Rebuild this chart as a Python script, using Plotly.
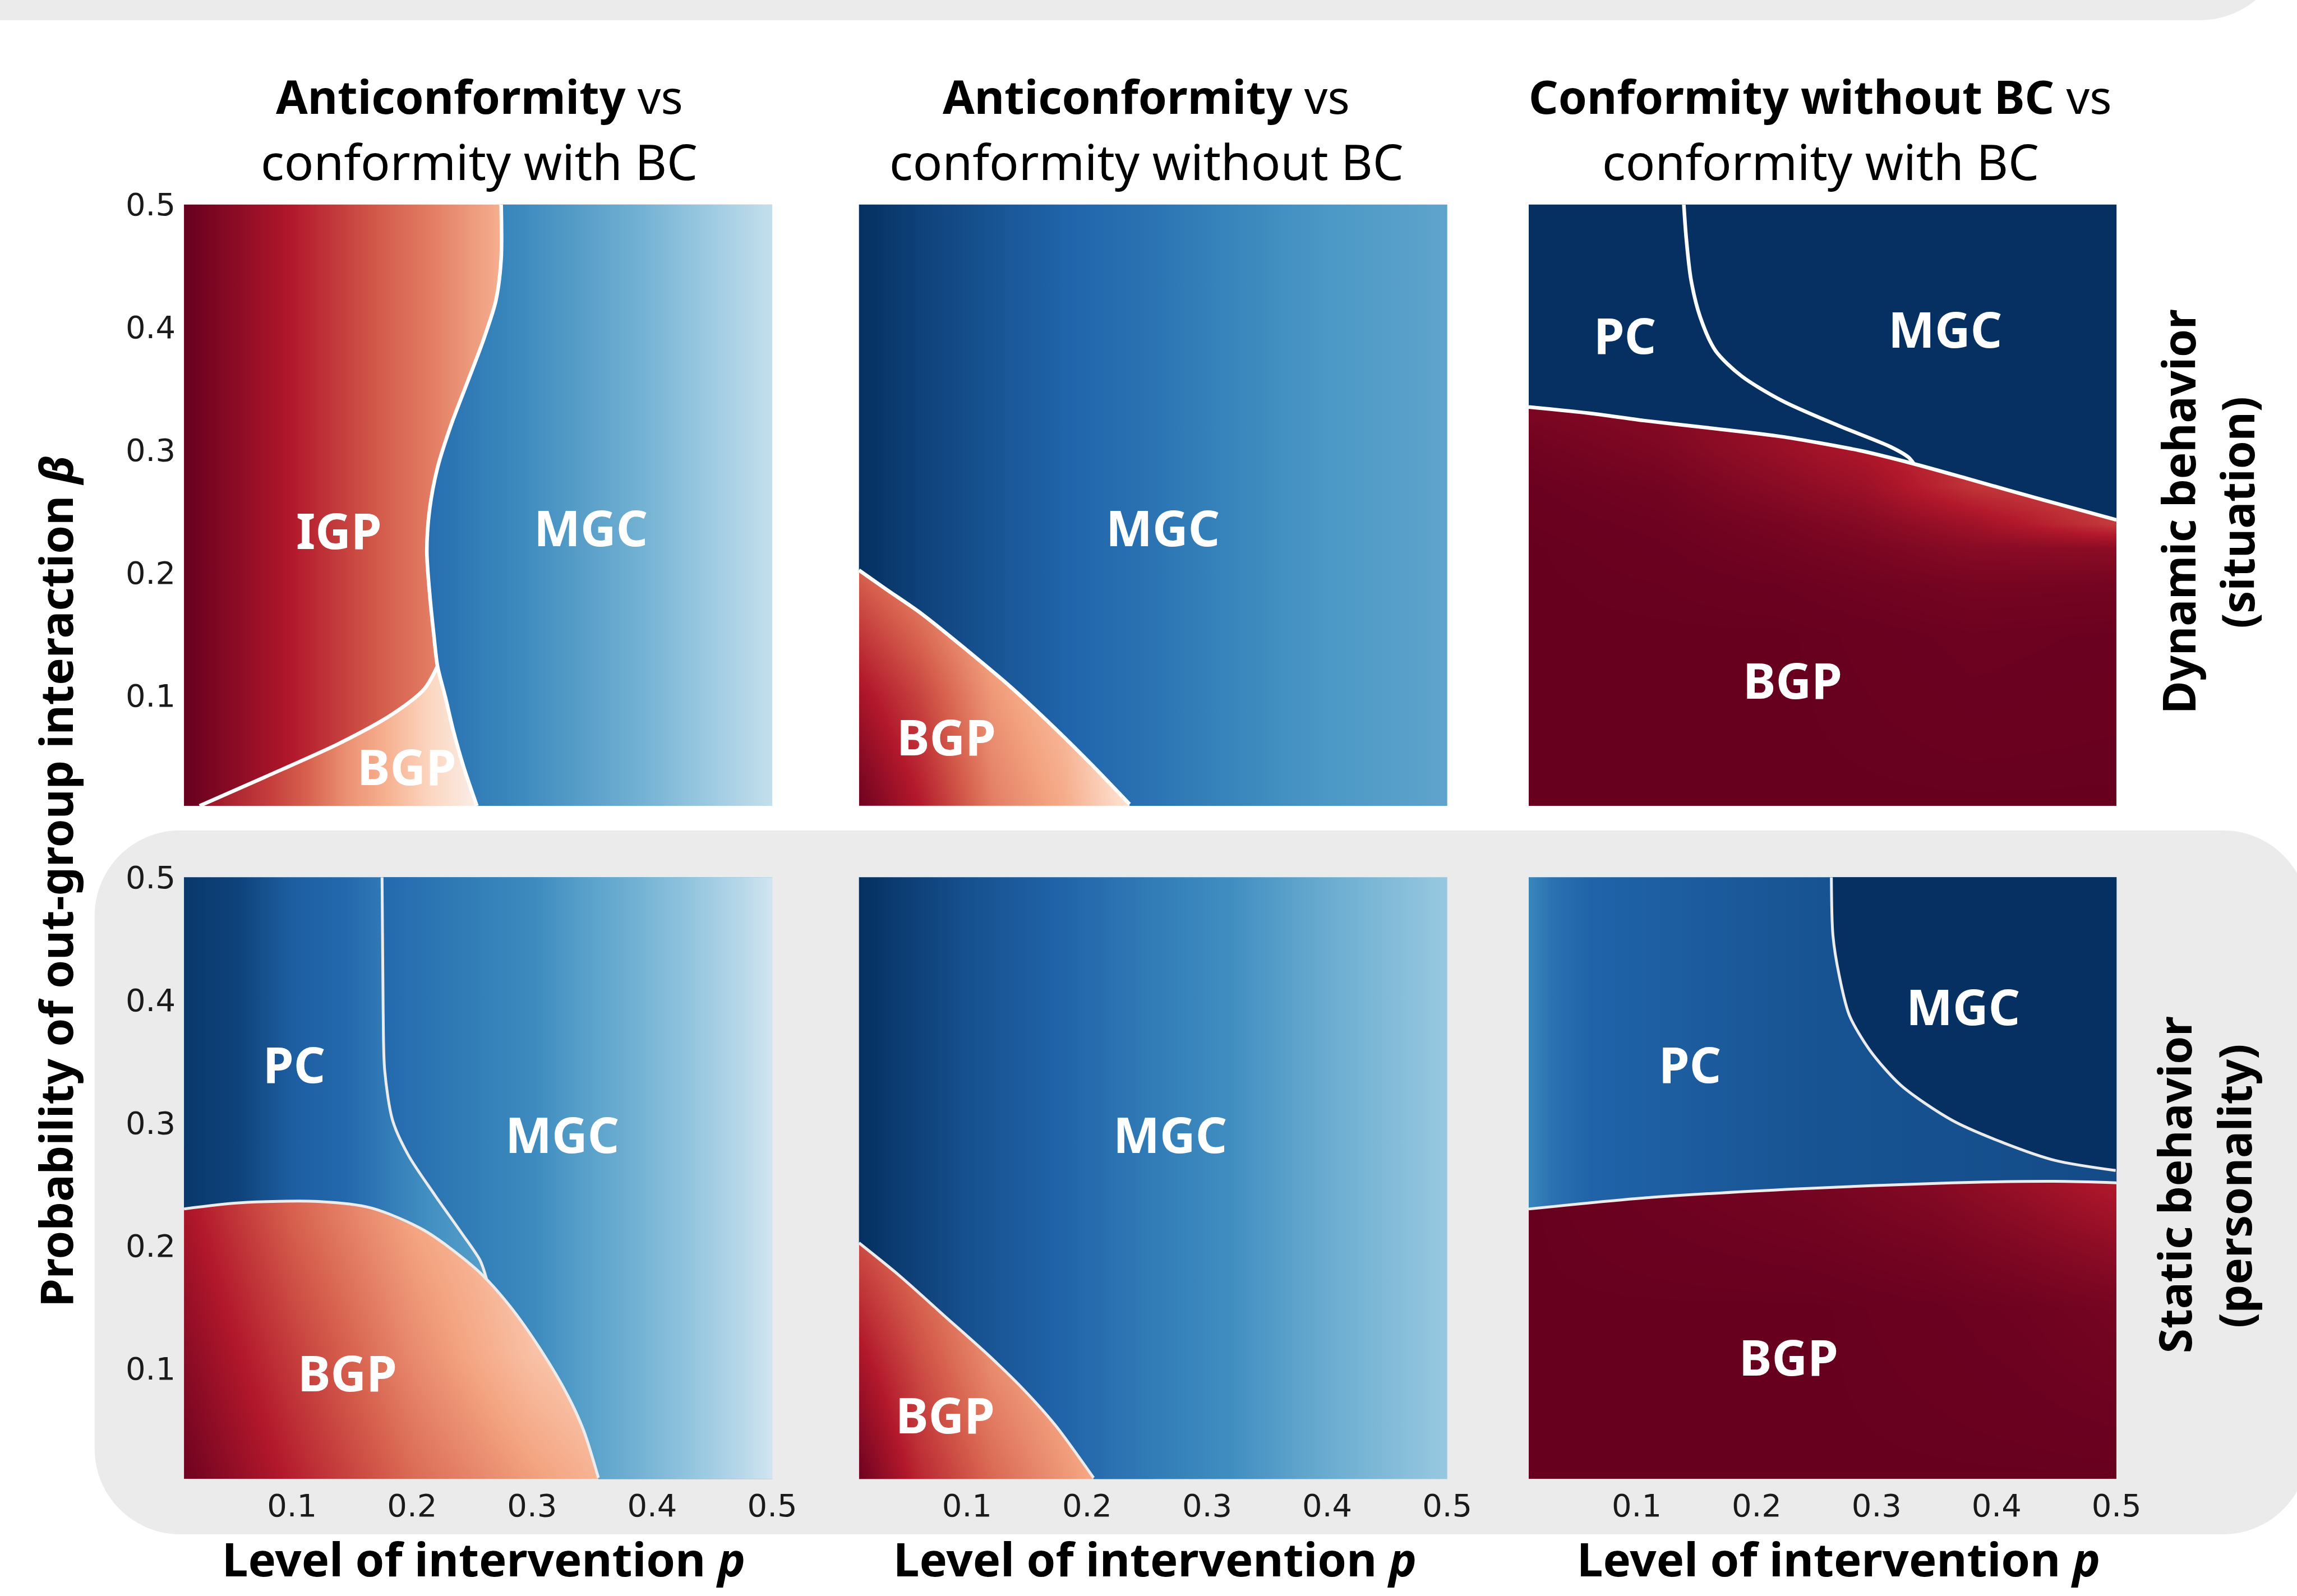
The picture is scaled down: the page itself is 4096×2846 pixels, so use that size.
import plotly.graph_objects as go
from plotly.colors import sample_colorscale

FIG_W, FIG_H = 4096, 2846
REF_W, REF_H = 5244, 3644

# matplotlib RdBu (0 = dark red, 1 = dark blue)
RDBU = [[0.0, 'rgb(103,0,31)'], [0.1, 'rgb(178,24,43)'], [0.2, 'rgb(214,96,77)'],
        [0.3, 'rgb(244,165,130)'], [0.4, 'rgb(253,219,199)'], [0.5, 'rgb(247,247,247)'],
        [0.6, 'rgb(209,229,240)'], [0.7, 'rgb(146,197,222)'], [0.8, 'rgb(67,147,195)'],
        [0.9, 'rgb(33,102,172)'], [1.0, 'rgb(5,48,97)']]

P_RANGE = [0.01, 0.5]
B_RANGE = [0.01, 0.5]
TICK_VALS = [0.1, 0.2, 0.3, 0.4, 0.5]
TICK_TEXT = ['0.1', '0.2', '0.3', '0.4', '0.5']

COL_TITLES_1 = ['<b>Anticonformity</b> vs', '<b>Anticonformity</b> vs', '<b>Conformity without BC</b> vs']
COL_TITLES_2 = ['conformity with BC', 'conformity without BC', 'conformity with BC']
ROW_TITLES_1 = ['<b>Dynamic behavior</b>', '<b>Static behavior</b>']
ROW_TITLES_2 = ['<b>(situation)</b>', '<b>(personality)</b>']
X_TITLE = '<b>Level of intervention <i>p</i></b>'
Y_TITLE = '<b>Probability of out-group interaction <i>β</i></b>'

# ---------------- panel 1: anticonformity vs conformity with BC (dynamic)
A1_IGP_p = [0.01, 0.10, 0.17, 0.215, 0.275]
A1_IGP_v = [0.0, 0.10, 0.19, 0.24, 0.32]
A1_MGC_p = [0.21, 0.29, 0.39, 0.45, 0.5]
A1_MGC_v = [0.885, 0.82, 0.74, 0.68, 0.62]
A1_BGP_p = [0.02, 0.08, 0.112, 0.145, 0.178, 0.215, 0.255]
A1_BGP_v = [0.06, 0.15, 0.20, 0.27, 0.32, 0.39, 0.47]
A1_IGP_MGC_p = [0.2742, 0.2742, 0.2698, 0.2587, 0.2455, 0.2322, 0.2212, 0.2146, 0.2123, 0.2146, 0.2181, 0.2212]
A1_IGP_MGC_b = [0.5, 0.456, 0.4217, 0.3877, 0.3537, 0.3196, 0.2856, 0.2516, 0.2175, 0.1834, 0.1494, 0.1238]
A1_BGP_MGC_p = [0.2212, 0.2278, 0.2344, 0.2433, 0.254]
A1_BGP_MGC_b = [0.1238, 0.0983, 0.0711, 0.0406, 0.01]
A1_IGP_BGP_p = [0.023, 0.0776, 0.1394, 0.1836, 0.2101, 0.2212]
A1_IGP_BGP_b = [0.01, 0.0336, 0.0609, 0.0847, 0.1051, 0.1238]

# ---------------- panel 2: anticonformity vs conformity without BC (dynamic)
A2_MGC_p = [0.01, 0.06, 0.135, 0.19, 0.25, 0.32, 0.40, 0.5]
A2_MGC_v = [1.0, 0.968, 0.925, 0.90, 0.874, 0.832, 0.79, 0.765]
A2_BGP_p = [0.01, 0.06, 0.12, 0.18, 0.24]
A2_BGP_b = [0.01, 0.10, 0.20]
A2_BGP_z = [[0.01, 0.10, 0.24, 0.31, 0.43],
            [0.085, 0.16, 0.28, 0.34, 0.45],
            [0.20, 0.26, 0.33, 0.40, 0.46]]
A2_BND_p = [0.01, 0.0322, 0.0621, 0.0993, 0.1365, 0.1737, 0.2036, 0.2354]
A2_BND_b = [0.2021, 0.1868, 0.1666, 0.1374, 0.1068, 0.0728, 0.0438, 0.0114]

# ---------------- panel 3: conformity without BC vs conformity with BC (dynamic)
A3_TOP_v = 1.0
A3_BGP_p = [0.01, 0.12, 0.22, 0.29, 0.38, 0.5]
A3_BGP_b = [0.01, 0.15, 0.19, 0.22, 0.24, 0.27, 0.30, 0.34]
A3_BGP_z = [[0.0, 0.0, 0.0, 0.0, 0.0, 0.0],
            [0.0, 0.0, 0.0, 0.003, 0.008, 0.005],
            [0.0, 0.002, 0.006, 0.012, 0.02, 0.018],
            [0.0, 0.005, 0.015, 0.025, 0.045, 0.05],
            [0.002, 0.008, 0.022, 0.04, 0.075, 0.15],
            [0.005, 0.015, 0.045, 0.07, 0.14, 0.17],
            [0.012, 0.03, 0.065, 0.095, 0.15, 0.17],
            [0.03, 0.045, 0.075, 0.095, 0.15, 0.17]]
A3_BND_p = [0.01, 0.06, 0.1058, 0.16, 0.22, 0.2857, 0.33, 0.378, 0.44, 0.5]
A3_BND_b = [0.335, 0.330, 0.324, 0.318, 0.311, 0.2996, 0.289, 0.276, 0.259, 0.243]
A3_PCMGC_p = [0.1393, 0.1413, 0.1453, 0.1530, 0.1657, 0.1872, 0.2215, 0.2688, 0.3116, 0.3265, 0.3309]
A3_PCMGC_b = [0.5, 0.4728, 0.4387, 0.4082, 0.3809, 0.3604, 0.340, 0.3196, 0.3026, 0.2941, 0.289]

# ---------------- panel 4: anticonformity vs conformity with BC (static)
A4_PC_p = [0.01, 0.056, 0.10, 0.144, 0.173, 0.21, 0.27]
A4_PC_v = [0.985, 0.965, 0.915, 0.895, 0.86, 0.81, 0.77]
A4_MGC_p = [0.18, 0.30, 0.343, 0.387, 0.431, 0.475, 0.5]
A4_MGC_v = [0.89, 0.82, 0.775, 0.74, 0.70, 0.64, 0.60]
A4_BGP_p = [0.01, 0.10, 0.20, 0.30, 0.36]
A4_BGP_b = [0.01, 0.11, 0.22, 0.26]
A4_BGP_z = [[0.01, 0.11, 0.215, 0.29, 0.33],
            [0.045, 0.15, 0.26, 0.35, 0.38],
            [0.085, 0.20, 0.30, 0.37, 0.40],
            [0.10, 0.21, 0.31, 0.38, 0.41]]
A4_BND_p = [0.01, 0.0557, 0.1219, 0.1661, 0.2103, 0.2545, 0.281, 0.3075, 0.3296, 0.3429, 0.3552]
A4_BND_b = [0.23, 0.2349, 0.236, 0.2307, 0.2124, 0.1799, 0.1514, 0.1147, 0.0781, 0.0496, 0.011]
A4_PCMGC_p = [0.175, 0.1759, 0.1772, 0.1838, 0.197, 0.2192, 0.2412, 0.2567, 0.262]
A4_PCMGC_b = [0.5, 0.3916, 0.3427, 0.302, 0.2735, 0.2409, 0.2104, 0.188, 0.173]

# ---------------- panel 5: anticonformity vs conformity without BC (static)
A5_MGC_p = [0.01, 0.10, 0.175, 0.25, 0.32, 0.40, 0.47, 0.5]
A5_MGC_v = [1.0, 0.94, 0.905, 0.855, 0.81, 0.75, 0.71, 0.69]
A5_BGP_p = [0.01, 0.06, 0.12, 0.21]
A5_BGP_b = [0.01, 0.10, 0.20]
A5_BGP_z = [[0.01, 0.12, 0.21, 0.31],
            [0.08, 0.17, 0.26, 0.34],
            [0.17, 0.23, 0.30, 0.36]]
A5_BND_p = [0.01, 0.0435, 0.0807, 0.118, 0.1478, 0.1737, 0.2054]
A5_BND_b = [0.2023, 0.1758, 0.1433, 0.1107, 0.0822, 0.0537, 0.011]

# ---------------- panel 6: conformity without BC vs conformity with BC (static)
A6_PC_p = [0.01, 0.03, 0.063, 0.127, 0.19, 0.256, 0.36, 0.5]
A6_PC_v = [0.83, 0.875, 0.905, 0.915, 0.925, 0.935, 0.94, 0.95]
A6_MGC_v = 1.0
A6_BGP_p = [0.01, 0.25, 0.35, 0.42, 0.5]
A6_BGP_b = [0.01, 0.15, 0.20, 0.25]
A6_BGP_z = [[0.0, 0.0, 0.0, 0.0, 0.0],
            [0.0, 0.0, 0.005, 0.01, 0.02],
            [0.0, 0.01, 0.02, 0.035, 0.055],
            [0.0, 0.02, 0.04, 0.065, 0.10]]
A6_BND_p = [0.01, 0.1058, 0.2345, 0.363, 0.449, 0.5]
A6_BND_b = [0.2299, 0.2389, 0.2463, 0.2512, 0.2524, 0.2512]
A6_PCMGC_p = [0.2623, 0.2636, 0.2688, 0.2773, 0.2944, 0.3203, 0.363, 0.406, 0.449, 0.4993]
A6_PCMGC_b = [0.5, 0.4527, 0.4201, 0.3876, 0.3591, 0.3306, 0.3021, 0.2837, 0.2694, 0.2612]

# region labels (text, p, beta) per panel
LABELS = [
    [('IGP', 0.139, 0.235), ('MGC', 0.349, 0.237), ('BGP', 0.1956, 0.0427)],
    [('MGC', 0.263, 0.237), ('BGP', 0.0826, 0.0665)],
    [('PC', 0.0902, 0.394), ('MGC', 0.357, 0.399), ('BGP', 0.230, 0.113)],
    [('PC', 0.1019, 0.348), ('MGC', 0.325, 0.291), ('BGP', 0.146, 0.0968)],
    [('MGC', 0.269, 0.291), ('BGP', 0.082, 0.0626)],
    [('PC', 0.1445, 0.348), ('MGC', 0.372, 0.395), ('BGP', 0.2266, 0.1096)],
]

# ------------------------------------------------------------------ helpers
LO, HI = -0.05, 0.55
traces = []


def ax(i):
    return ('x' if i == 1 else f'x{i}', 'y' if i == 1 else f'y{i}')


def color_of(v):
    return sample_colorscale(RDBU, [v])[0]


def grad_scale(ps, vs):
    p0, p1 = ps[0], ps[-1]
    cols = sample_colorscale(RDBU, vs)
    return [[(p - p0) / (p1 - p0), c] for p, c in zip(ps, cols)]


def grad_poly(i, xs, ys, ps, vs):
    xa, ya = ax(i)
    traces.append(go.Scatter(
        x=xs, y=ys, xaxis=xa, yaxis=ya, mode='none', fill='toself',
        fillgradient=dict(type='horizontal', start=ps[0], stop=ps[-1], colorscale=grad_scale(ps, vs)),
        hoverinfo='skip', showlegend=False))


def solid_poly(i, xs, ys, v):
    xa, ya = ax(i)
    traces.append(go.Scatter(
        x=xs, y=ys, xaxis=xa, yaxis=ya, mode='none', fill='toself', fillcolor=color_of(v),
        hoverinfo='skip', showlegend=False))


def heat(i, ps, bs, z):
    xa, ya = ax(i)
    traces.append(go.Heatmap(
        x=ps, y=bs, z=z, xaxis=xa, yaxis=ya, colorscale=RDBU, zmin=0, zmax=1,
        zsmooth='best', showscale=False, hoverinfo='skip'))


def line(i, xs, ys, width, color):
    xa, ya = ax(i)
    traces.append(go.Scatter(
        x=xs, y=ys, xaxis=xa, yaxis=ya, mode='lines',
        line=dict(color=color, width=width, shape='spline', smoothing=0.8),
        hoverinfo='skip', showlegend=False))


TOP_LW, TOP_LC = 6.5, 'white'
BOT_LW, BOT_LC = 5, '#ececec'

# panel 1
grad_poly(1, [LO, HI, HI, LO], [LO, LO, HI, HI], A1_IGP_p, A1_IGP_v)
grad_poly(1,
          [A1_IGP_MGC_p[0]] + A1_IGP_MGC_p + A1_BGP_MGC_p[1:] + [A1_BGP_MGC_p[-1], HI, HI],
          [HI] + A1_IGP_MGC_b + A1_BGP_MGC_b[1:] + [LO, LO, HI],
          A1_MGC_p, A1_MGC_v)
grad_poly(1,
          [A1_IGP_BGP_p[0]] + A1_IGP_BGP_p + A1_BGP_MGC_p[1:] + [A1_BGP_MGC_p[-1]],
          [LO] + A1_IGP_BGP_b + A1_BGP_MGC_b[1:] + [LO],
          A1_BGP_p, A1_BGP_v)
line(1, A1_IGP_MGC_p + A1_BGP_MGC_p[1:], A1_IGP_MGC_b + A1_BGP_MGC_b[1:], TOP_LW, TOP_LC)
line(1, A1_IGP_BGP_p, A1_IGP_BGP_b, TOP_LW, TOP_LC)

# panel 2
heat(2, A2_BGP_p, A2_BGP_b, A2_BGP_z)
grad_poly(2,
          [LO, LO] + A2_BND_p + [A2_BND_p[-1], HI, HI],
          [HI, A2_BND_b[0]] + A2_BND_b + [LO, LO, HI],
          A2_MGC_p, A2_MGC_v)
line(2, A2_BND_p, A2_BND_b, TOP_LW, TOP_LC)

# panel 3
heat(3, A3_BGP_p, A3_BGP_b, A3_BGP_z)
solid_poly(3, [LO, LO] + A3_BND_p + [HI, HI], [HI, A3_BND_b[0]] + A3_BND_b + [A3_BND_b[-1], HI], A3_TOP_v)
line(3, A3_BND_p, A3_BND_b, TOP_LW, TOP_LC)
line(3, A3_PCMGC_p, A3_PCMGC_b, TOP_LW, TOP_LC)

# panel 4
heat(4, A4_BGP_p, A4_BGP_b, A4_BGP_z)
grad_poly(4,
          [LO, LO] + A4_BND_p + [A4_BND_p[-1], HI, HI],
          [HI, A4_BND_b[0]] + A4_BND_b + [LO, LO, HI],
          A4_PC_p, A4_PC_v)
k4 = next(j for j, pv in enumerate(A4_BND_p) if pv > A4_PCMGC_p[-1])
grad_poly(4,
          [A4_PCMGC_p[0]] + A4_PCMGC_p + A4_BND_p[k4:] + [A4_BND_p[-1], HI, HI],
          [HI] + A4_PCMGC_b + A4_BND_b[k4:] + [LO, LO, HI],
          A4_MGC_p, A4_MGC_v)
line(4, A4_BND_p, A4_BND_b, BOT_LW, BOT_LC)
line(4, A4_PCMGC_p, A4_PCMGC_b, BOT_LW, BOT_LC)

# panel 5
heat(5, A5_BGP_p, A5_BGP_b, A5_BGP_z)
grad_poly(5,
          [LO, LO] + A5_BND_p + [A5_BND_p[-1], HI, HI],
          [HI, A5_BND_b[0]] + A5_BND_b + [LO, LO, HI],
          A5_MGC_p, A5_MGC_v)
line(5, A5_BND_p, A5_BND_b, BOT_LW, BOT_LC)

# panel 6
heat(6, A6_BGP_p, A6_BGP_b, A6_BGP_z)
grad_poly(6,
          [LO, LO] + A6_BND_p + [HI, HI],
          [HI, A6_BND_b[0]] + A6_BND_b + [A6_BND_b[-1], HI],
          A6_PC_p, A6_PC_v)
solid_poly(6, [A6_PCMGC_p[0]] + A6_PCMGC_p + [HI, HI],
           [HI] + A6_PCMGC_b + [A6_PCMGC_b[-1], HI], A6_MGC_v)
line(6, A6_BND_p, A6_BND_b, BOT_LW, BOT_LC)
line(6, A6_PCMGC_p, A6_PCMGC_b, BOT_LW, BOT_LC)

fig = go.Figure(traces)

# ------------------------------------------------------------------ layout
def fx(px):
    return px / REF_W


def fy(py):
    return 1 - py / REF_H


DOMX = [[fx(420), fx(1763)], [fx(1961), fx(3304)], [fx(3490), fx(4832)]]
DOMY = [[fy(1840), fy(467)], [fy(3377), fy(2003)]]
TICK_FONT = dict(family='DejaVu Sans', size=56, color='#1a1a1a')

layout = dict(width=FIG_W, height=FIG_H, autosize=False,
              margin=dict(l=0, r=0, t=0, b=0, pad=0, autoexpand=False),
              template='none',
              paper_bgcolor='white', plot_bgcolor='rgba(0,0,0,0)', showlegend=False)
for r in range(2):
    for c in range(3):
        i = r * 3 + c + 1
        sx = '' if i == 1 else str(i)
        layout['xaxis' + sx] = dict(domain=DOMX[c], range=P_RANGE, anchor='y' + sx, automargin=False,
                                    showgrid=False, zeroline=False, showline=False, ticks='',
                                    tickvals=TICK_VALS, ticktext=TICK_TEXT, showticklabels=(r == 1),
                                    tickfont=TICK_FONT, ticklabelstandoff=10, fixedrange=True)
        layout['yaxis' + sx] = dict(domain=DOMY[r], range=B_RANGE, anchor='x' + sx, automargin=False,
                                    showgrid=False, zeroline=False, showline=False, ticks='',
                                    tickvals=TICK_VALS, ticktext=TICK_TEXT, showticklabels=(c == 0),
                                    tickfont=TICK_FONT, ticklabelstandoff=14, fixedrange=True)


def rr_path(x0, y0, x1, y1, r):
    k = 0.5523 * r

    def P(x, y):
        return f"{fx(x):.5f},{fy(y):.5f}"
    return (f"M{P(x0 + r, y0)} L{P(x1 - r, y0)} C{P(x1 - r + k, y0)} {P(x1, y0 + r - k)} {P(x1, y0 + r)} "
            f"L{P(x1, y1 - r)} C{P(x1, y1 - r + k)} {P(x1 - r + k, y1)} {P(x1 - r, y1)} "
            f"L{P(x0 + r, y1)} C{P(x0 + r - k, y1)} {P(x0, y1 - r + k)} {P(x0, y1 - r)} "
            f"L{P(x0, y0 + r)} C{P(x0, y0 + r - k)} {P(x0 + r - k, y0)} {P(x0 + r, y0)} Z")


GREY = '#ebebeb'
layout['shapes'] = [
    dict(type='path', xref='paper', yref='paper', layer='below', path=rr_path(-400, -400, 5222, 46, 200),
         fillcolor=GREY, line=dict(width=0)),
    dict(type='path', xref='paper', yref='paper', layer='below', path=rr_path(216, 1896, 5270, 3503, 195),
         fillcolor=GREY, line=dict(width=0)),
]

anns = []


def ann(text, x, y, size, angle=0, color='black', family='Noto Sans', xref='paper', yref='paper'):
    anns.append(dict(text=text, x=x, y=y, xref=xref, yref=yref, showarrow=False,
                     font=dict(family=family, size=size, color=color), textangle=angle,
                     xanchor='center', yanchor='middle'))


TITLE_X = [1094, 2617, 4156]
for c in range(3):
    ann(COL_TITLES_1[c], fx(TITLE_X[c]), fy(219), 82)
    ann(COL_TITLES_2[c], fx(TITLE_X[c]), fy(367), 87)

XT_X = [1104, 2637, 4197]
for c in range(3):
    ann(X_TITLE, fx(XT_X[c]), fy(3558), 83)
ann(Y_TITLE, fx(126), fy(2012), 81.5, angle=-90)

ann(ROW_TITLES_1[0], fx(4971), fy(1168), 80, angle=-90)
ann(ROW_TITLES_2[0], fx(5107), fy(1170), 80, angle=-90)
ann(ROW_TITLES_1[1], fx(4963), fy(2705), 80, angle=-90)
ann(ROW_TITLES_2[1], fx(5101), fy(2708), 80, angle=-90)

for i, labs in enumerate(LABELS, start=1):
    xa, ya = ax(i)
    for t, p, b in labs:
        ann(f'<b>{t}</b>', p, b, 88, color='white', xref=xa, yref=ya)

layout['annotations'] = anns
fig.update_layout(**layout)
fig.write_html("out.html",
               config={'displayModeBar': False, 'staticPlot': True},
               post_script="document.body.style.margin='0';document.body.style.overflow='hidden';")
